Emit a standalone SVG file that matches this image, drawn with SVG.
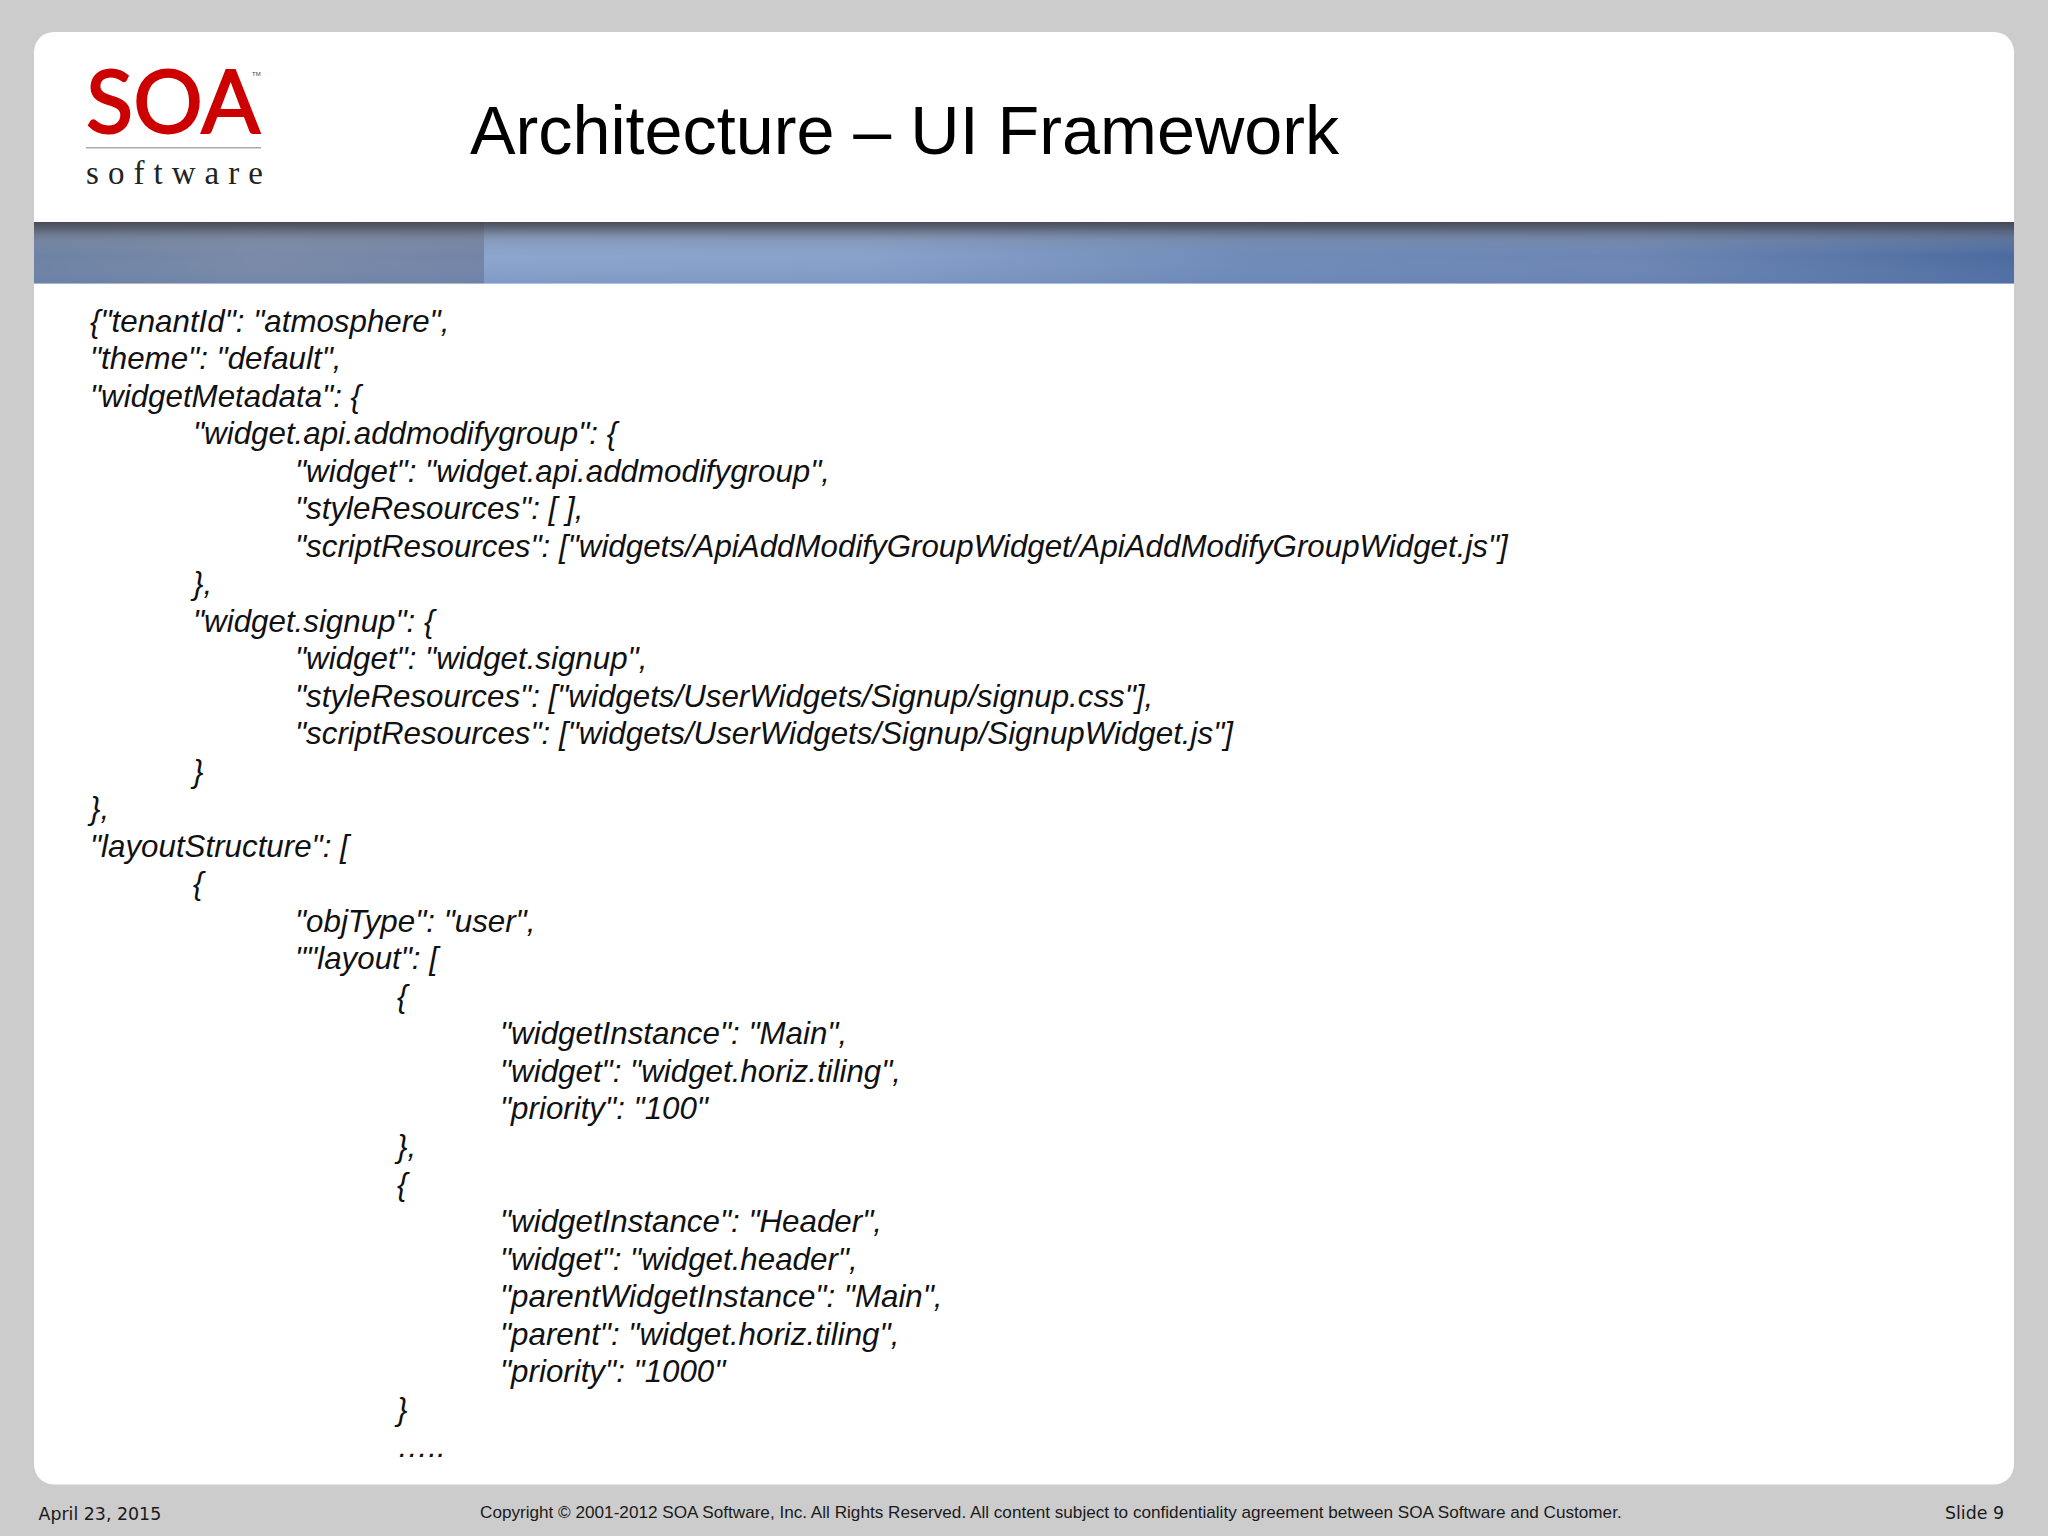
<svg xmlns="http://www.w3.org/2000/svg" width="2048" height="1536" viewBox="0 0 2048 1536">
<defs>
<linearGradient id="bandL" x1="0" y1="0" x2="1" y2="0"><stop offset="0" stop-color="#6d82a3"/><stop offset="0.5" stop-color="#7a8aa8"/><stop offset="1" stop-color="#7484a6"/></linearGradient>
<linearGradient id="bandR" x1="0" y1="0" x2="1" y2="0"><stop offset="0" stop-color="#8ca5ce"/><stop offset="0.25" stop-color="#88a2cc"/><stop offset="0.5" stop-color="#6f8bb9"/><stop offset="0.75" stop-color="#6c86b4"/><stop offset="1" stop-color="#4a6a9f"/></linearGradient>
<linearGradient id="bandShade" x1="0" y1="0" x2="0" y2="1"><stop offset="0" stop-color="#45474e" stop-opacity="0.95"/><stop offset="0.1" stop-color="#50535f" stop-opacity="0.75"/><stop offset="0.3" stop-color="#7f8896" stop-opacity="0.35"/><stop offset="0.55" stop-color="#8a98b0" stop-opacity="0"/><stop offset="1" stop-color="#5f7fb5" stop-opacity="0.3"/></linearGradient>
</defs>
<style>
.b{font-family:"Liberation Sans",Arial,sans-serif;font-style:italic;font-size:31.3px;fill:#111}
.f{font-family:"Liberation Sans",Arial,sans-serif;font-size:17.15px;fill:#1a1a1a}
.d{font-family:"DejaVu Sans",sans-serif;font-size:17.4px;fill:#1a1a1a}
</style>
<rect id="background" width="2048" height="1536" fill="#cccccc"/>
<rect id="card" x="34" y="32" width="1980" height="1452.5" rx="20" fill="#ffffff"/>
<g id="band">
<rect x="34" y="222" width="450" height="61.5" fill="url(#bandL)"/>
<rect x="484" y="222" width="1530" height="61.5" fill="url(#bandR)"/>
<rect x="34" y="222" width="1980" height="61.5" fill="url(#bandShade)"/>
</g>
<g id="logo">
<text x="86" y="133" font-family="Lato,'Open Sans',sans-serif" font-size="87" fill="#cc0000" stroke="#cc0000" stroke-width="2" textLength="174" lengthAdjust="spacingAndGlyphs">SOA</text>
<text x="252" y="76" font-family="'Liberation Sans',sans-serif" font-size="6" fill="#444">TM</text>
<rect x="86" y="147" width="175" height="1.5" fill="#aaaaaa"/>
<text x="86" y="184" font-family="'Liberation Serif',serif" font-size="33" fill="#222" textLength="177">software</text>
</g>
<text id="title" x="470" y="154" font-family="'Liberation Sans',Arial,sans-serif" font-size="68.3" fill="#000">Architecture – UI Framework</text>
<g id="body">
<text class="b" x="90" y="331.5">{"tenantId": "atmosphere",</text>
<text class="b" x="90" y="369">"theme": "default",</text>
<text class="b" x="90" y="406.5">"widgetMetadata": {</text>
<text class="b" x="193" y="444.1">"widget.api.addmodifygroup": {</text>
<text class="b" x="295" y="481.6">"widget": "widget.api.addmodifygroup",</text>
<text class="b" x="295" y="519.1">"styleResources": [ ],</text>
<text class="b" x="295" y="556.6">"scriptResources": ["widgets/ApiAddModifyGroupWidget/ApiAddModifyGroupWidget.js"]</text>
<text class="b" x="193" y="594.1">},</text>
<text class="b" x="193" y="631.7">"widget.signup": {</text>
<text class="b" x="295" y="669.2">"widget": "widget.signup",</text>
<text class="b" x="295" y="706.7">"styleResources": ["widgets/UserWidgets/Signup/signup.css"],</text>
<text class="b" x="295" y="744.2">"scriptResources": ["widgets/UserWidgets/Signup/SignupWidget.js"]</text>
<text class="b" x="193" y="781.7">}</text>
<text class="b" x="90" y="819.3">},</text>
<text class="b" x="90" y="856.8">"layoutStructure": [</text>
<text class="b" x="193" y="894.3">{</text>
<text class="b" x="295" y="931.8">"objType": "user",</text>
<text class="b" x="295" y="969.3">""layout": [</text>
<text class="b" x="397" y="1006.9">{</text>
<text class="b" x="500" y="1044.4">"widgetInstance": "Main",</text>
<text class="b" x="500" y="1081.9">"widget": "widget.horiz.tiling",</text>
<text class="b" x="500" y="1119.4">"priority": "100"</text>
<text class="b" x="397" y="1156.9">},</text>
<text class="b" x="397" y="1194.5">{</text>
<text class="b" x="500" y="1232">"widgetInstance": "Header",</text>
<text class="b" x="500" y="1269.5">"widget": "widget.header",</text>
<text class="b" x="500" y="1307">"parentWidgetInstance": "Main",</text>
<text class="b" x="500" y="1344.5">"parent": "widget.horiz.tiling",</text>
<text class="b" x="500" y="1382.1">"priority": "1000"</text>
<text class="b" x="397" y="1419.6">}</text>
<text class="b" x="397" y="1457.1">…..</text>
</g>
<g id="footer">
<text class="d" x="38.5" y="1520">April 23, 2015</text>
<text class="f" x="480" y="1518">Copyright © 2001-2012 SOA Software, Inc. All Rights Reserved. All content subject to confidentiality agreement between SOA Software and Customer.</text>
<text class="d" x="1945" y="1519">Slide 9</text>
</g>
</svg>
